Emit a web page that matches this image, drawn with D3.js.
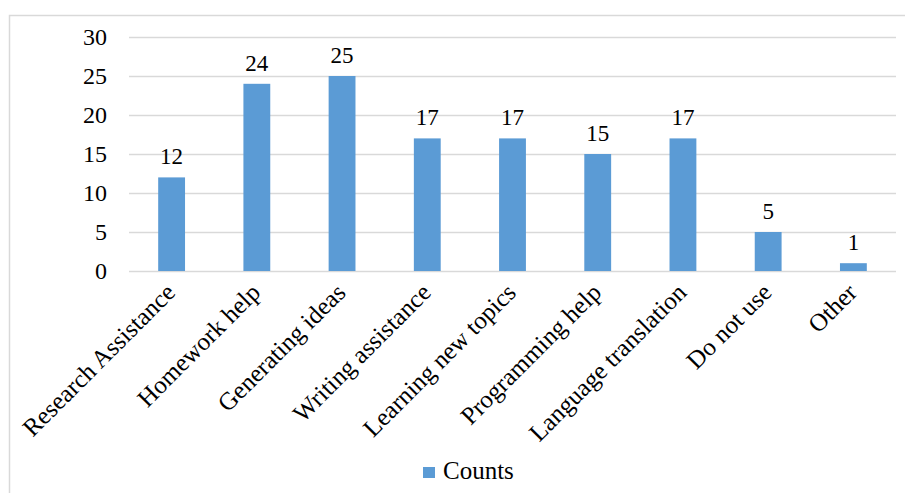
<!DOCTYPE html>
<html>
<head>
<meta charset="utf-8">
<script src="https://cdn.jsdelivr.net/npm/d3@7"></script>
<style>
  html, body { margin: 0; padding: 0; background: #fff; }
  svg { display: block; }
</style>
</head>
<body>
<svg id="chart" width="905" height="493"></svg>
<script>
// Usage categories and their counts
const categories = [
  "Research Assistance", "Homework help", "Generating ideas",
  "Writing assistance", "Learning new topics", "Programming help",
  "Language translation", "Do not use", "Other"
];
const counts = [12, 24, 25, 17, 17, 15, 17, 5, 1];
const yTicks = [0, 5, 10, 15, 20, 25, 30];
const seriesName = "Counts";

const serif = '"Liberation Serif", Tinos, serif';
const svg = d3.select("#chart");
const W = 905, H = 493;
const margin = { left: 129, right: 9, top: 37, bottom: 222 };
const plotW = W - margin.left - margin.right;
const plotH = H - margin.top - margin.bottom;

// outer chart frame
svg.append("rect")
  .attr("x", 9.5).attr("y", 15.5)
  .attr("width", W + 20).attr("height", H + 20)
  .attr("fill", "#fff").attr("stroke", "#d9d9d9").attr("stroke-width", 1.5);

const g = svg.append("g").attr("transform", `translate(${margin.left},${margin.top})`);

const x = d3.scaleBand().domain(categories).range([0, plotW]).paddingInner(0.685).paddingOuter(0.3425);
const y = d3.scaleLinear().domain([0, 30]).range([plotH, 0]);

// horizontal gridlines
g.append("g").selectAll("line").data(yTicks).join("line")
  .attr("x1", 0).attr("x2", plotW)
  .attr("y1", d => Math.round(y(d)) + 0.5).attr("y2", d => Math.round(y(d)) + 0.5)
  .attr("stroke", "#d9d9d9").attr("stroke-width", 1.5);

// y axis labels
const yAxis = d3.axisLeft(y).tickValues(yTicks).tickSize(0).tickPadding(22);
const yg = g.append("g").call(yAxis);
yg.select(".domain").remove();
yg.selectAll("text")
  .style("font-family", serif).style("font-size", "24px").attr("fill", "#000");

// bars
g.append("g").selectAll("rect").data(counts).join("rect")
  .attr("x", (d, i) => x(categories[i]))
  .attr("width", x.bandwidth())
  .attr("y", d => y(d))
  .attr("height", d => plotH - y(d))
  .attr("fill", "#5b9bd5");

// value labels
g.append("g").selectAll("text").data(counts).join("text")
  .attr("x", (d, i) => x(categories[i]) + x.bandwidth() / 2)
  .attr("y", d => y(d) - 13)
  .attr("text-anchor", "middle")
  .style("font-family", serif).style("font-size", "23px").attr("fill", "#000")
  .text(d => d);

// x axis category labels, rotated
const xAxis = d3.axisBottom(x).tickSize(0).tickPadding(0);
const xg = g.append("g").attr("transform", `translate(0,${plotH})`).call(xAxis);
xg.select(".domain").remove();
xg.selectAll("text")
  .style("font-family", serif).style("font-size", "25px").attr("fill", "#000")
  .attr("text-anchor", "end")
  .attr("dy", 0)
  .attr("transform", "translate(5,23) rotate(-45)");

// legend
const lg = svg.append("g").attr("transform", "translate(423,467)");
lg.append("rect").attr("width", 12).attr("height", 11).attr("fill", "#5b9bd5");
lg.append("text").attr("x", 20).attr("y", 12)
  .style("font-family", serif).style("font-size", "25px").attr("fill", "#000")
  .text(seriesName);
</script>
</body>
</html>
